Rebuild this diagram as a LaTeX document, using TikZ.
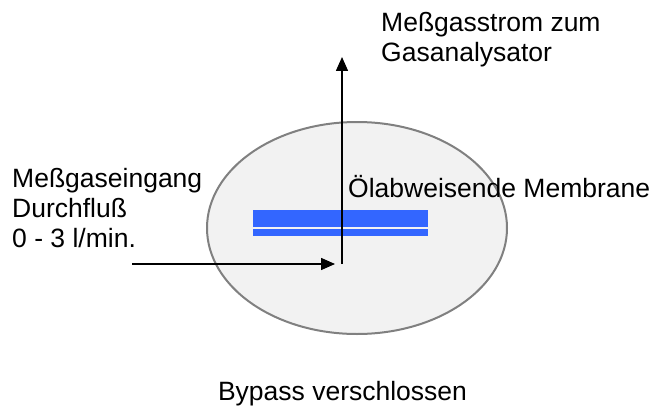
\documentclass[tikz,border=0pt]{standalone}
\usepackage{fontspec}
\setmainfont{Liberation Sans}
\usetikzlibrary{arrows.meta,shapes.geometric}

\definecolor{shellgray}{RGB}{242,242,242}
\definecolor{rimgray}{RGB}{128,128,128}
\definecolor{membraneblue}{RGB}{51,102,255}

\tikzset{
  label/.style={inner sep=0pt, align=left, font=\fontsize{26.5}{30}\selectfont},
  flow/.style={line width=1.5pt, -{Triangle[length=14pt,width=12pt]}},
}

\begin{document}
\begin{tikzpicture}[x=1pt, y=1pt]
  \useasboundingbox (0,0) rectangle (653,408);

  % Filter housing
  \node [ellipse, draw=rimgray, line width=2pt, fill=shellgray,
         minimum width=300pt, minimum height=212pt, inner sep=0pt] (housing) at (357,180) {};

  % Membrane
  \fill [membraneblue] (253,181) rectangle (428,198);
  \fill [membraneblue] (253,172) rectangle (428,179);

  % Points
  \coordinate (inlet) at (132,144);
  \coordinate (junction) at (342,144);
  \coordinate (outlet) at (342,351);

  % Labels (base = last line)
  \node [label, anchor=base west] (outtext) at (381,346) {Meßgasstrom zum\\Gasanalysator};
  \node [label, anchor=base west] (intext) at (12,161) {Meßgaseingang\\Durchfluß\\0 - 3 l/min.};
  \node [label, anchor=base west] (memtext) at (348,211) {Ölabweisende Membrane};
  \node [label, anchor=base] (bypass) at (342.5,8) {Bypass verschlossen};

  % Gas flow
  \draw [flow, shorten >=7pt] (inlet) -- (junction);
  \draw [flow] (junction) -- (outlet);
\end{tikzpicture}
\end{document}
